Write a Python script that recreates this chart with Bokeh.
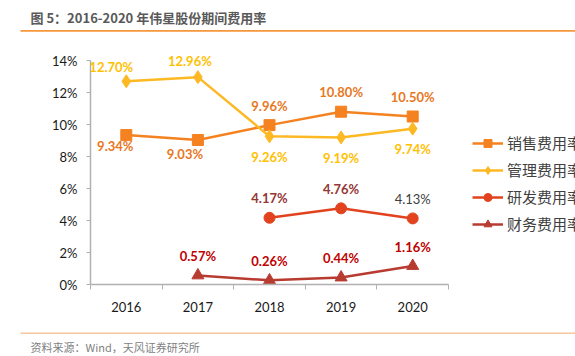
from bokeh.plotting import figure
from bokeh.layouts import column
from bokeh.models import (ColumnDataSource, FixedTicker, Range1d, LabelSet,
                          Legend, LegendItem)
from bokeh.core.properties import value
from bokeh.embed import file_html
from bokeh.resources import INLINE
import math

# ---------------- data ----------------
years = ["2016", "2017", "2018", "2019", "2020"]
series_names = ["销售费用率", "管理费用率", "研发费用率", "财务费用率"]
sales = [9.34, 9.03, 9.96, 10.80, 10.50]
admin = [12.70, 12.96, 9.26, 9.19, 9.74]
rnd = [float("nan"), float("nan"), 4.17, 4.76, 4.13]
finance = [float("nan"), 0.57, 0.26, 0.44, 1.16]
y_ticks = [0, 2, 4, 6, 8, 10, 12, 14]
y_tick_labels = ["0%", "2%", "4%", "6%", "8%", "10%", "12%", "14%"]
title_text = "图 5：2016-2020 年伟星股份期间费用率"
source_text = "资料来源：Wind，天风证券研究所"

# ---------------- styles ----------------
line_colors = ["#F58220", "#FDB924", "#E2431E", "#B83B30"]
markers = ["square", "diamond", "circle", "triangle"]
marker_sizes = [11, 13, 11, 12]
label_colors = [
    ["#E8771E"] * 5,
    ["#FFC000"] * 5,
    ["#943634", "#943634", "#943634", "#943634", "#404040"],
    ["#C00000"] * 5,
]
label_styles = [
    ["bold"] * 5,
    ["bold"] * 5,
    ["bold", "bold", "bold", "bold", "normal"],
    ["bold"] * 5,
]
# label offsets in pixels (dx right, dy up)
label_dx = [
    [-11, -13, 0, 0, 0],
    [-15, -8, 0, 0, 0],
    [0, 0, 0, 0, 0],
    [0, 0, 0, 0, 0],
]
label_dy = [
    [-10.5, -14, 19.5, 20, 20],
    [14.5, 16, -21, -20.5, -20.5],
    [19.4, 19.4, 19.4, 19.3, 19.4],
    [19.3, 19.3, 19.5, 19.4, 19.2],
]

W = 575
TOP_H = 40          # header strip (title + rule)
MAIN_H = 285        # chart strip
BOT_H = 31          # footer strip (rule + source)
FL = 90             # left border of chart frame
FB = 41             # bottom border of chart frame
frame_h = MAIN_H - FB
frame_w = W - FL
px_x = 71.6         # pixels per category
px_y = 16.0         # pixels per percentage point


def strip(height):
    f = figure(width=W, height=height, output_backend="svg", toolbar_location=None,
               x_range=Range1d(0, W), y_range=Range1d(height, 0), min_border=0,
               x_axis_location=None, y_axis_location=None, frame_align=False)
    f.title.visible = False
    f.grid.visible = False
    f.outline_line_color = None
    f.background_fill_alpha = 0
    f.border_fill_alpha = 0
    return f


# ---------------- header ----------------
top = strip(TOP_H)
top.text(x=[30], y=[17], text=[title_text], text_font=value("Noto Sans CJK SC"),
         text_font_style="bold", text_font_size="13px", text_color="#595959",
         text_baseline="middle", text_align="left")
top.segment(x0=[20], y0=[30.3], x1=[W], y1=[30.3], line_color="#F7963A", line_width=1.8)

# ---------------- chart ----------------
p = figure(width=W, height=MAIN_H, output_backend="svg", toolbar_location=None,
           x_range=Range1d(-0.5, -0.5 + frame_w / px_x),
           y_range=Range1d(0, frame_h / px_y),
           min_border_left=FL, min_border_right=0, min_border_top=0,
           min_border_bottom=FB, frame_align=False)
p.title.visible = False
p.background_fill_alpha = 0
p.border_fill_alpha = 0
p.outline_line_color = None
p.grid.visible = False

axis_color = "#B0B0B0"
xs = list(range(len(years)))
p.xaxis.ticker = FixedTicker(ticks=xs, minor_ticks=[i - 0.5 for i in range(len(years) + 1)])
p.xaxis.major_label_overrides = {i: y for i, y in enumerate(years)}
p.xaxis.bounds = (-0.5, len(years) - 0.5)
p.xaxis.major_tick_out = 0
p.xaxis.major_tick_in = 0
p.xaxis.minor_tick_out = 5
p.xaxis.minor_tick_in = 0
p.xaxis.minor_tick_line_color = axis_color
p.xaxis.major_label_standoff = 12

p.yaxis.ticker = FixedTicker(ticks=y_ticks, minor_ticks=[])
p.yaxis.major_label_overrides = {t: l for t, l in zip(y_ticks, y_tick_labels)}
p.yaxis.bounds = (y_ticks[0], y_ticks[-1])
p.yaxis.major_tick_out = 4
p.yaxis.major_tick_in = 0
p.yaxis.major_label_standoff = 9

for ax in (p.xaxis, p.yaxis):
    ax.axis_line_color = axis_color
    ax.axis_line_width = 1.5
    ax.major_tick_line_color = axis_color
    ax.major_label_text_font = "Lato"
    ax.major_label_text_font_size = "13px"
    ax.major_label_text_color = "#1a1a1a"

all_series = [sales, admin, rnd, finance]
items = []
for k, vals in enumerate(all_series):
    src = ColumnDataSource(dict(x=xs, y=vals))
    lr = p.line("x", "y", source=src, line_color=line_colors[k], line_width=2.5)
    sr = p.scatter("x", "y", source=src, marker=markers[k], size=marker_sizes[k],
                   fill_color=line_colors[k], line_color=line_colors[k])
    items.append(LegendItem(label=series_names[k], renderers=[lr, sr]))
    keep = [i for i, v in enumerate(vals) if not math.isnan(v)]
    lsrc = ColumnDataSource(dict(
        x=[xs[i] for i in keep], y=[vals[i] for i in keep],
        t=["%.2f%%" % vals[i] for i in keep],
        c=[label_colors[k][i] for i in keep],
        s=[label_styles[k][i] for i in keep],
        dx=[label_dx[k][i] for i in keep],
        dy=[label_dy[k][i] for i in keep]))
    p.add_layout(LabelSet(x="x", y="y", text="t", source=lsrc, x_offset="dx", y_offset="dy",
                          text_color="c", text_font_style="s", text_font=value("Lato"),
                          text_font_size="13px", text_align="center",
                          text_baseline="middle"))

legend = Legend(items=items, location=(382, 50), orientation="vertical",
                padding=0, margin=0, spacing=6, label_height=20, glyph_height=20,
                glyph_width=31, label_standoff=4, border_line_color=None,
                background_fill_alpha=0, label_text_font="Noto Sans CJK SC",
                label_text_font_size="15px", label_text_color="#404040")
p.add_layout(legend)

# ---------------- footer ----------------
bot = strip(BOT_H)
bot.segment(x0=[20], y0=[7.7], x1=[W], y1=[7.7], line_color="#F8C6A0", line_width=1.6)
bot.text(x=[30], y=[21], text=[source_text], text_font=value("Noto Sans CJK SC"),
         text_font_size="11px", text_color="#7F7F7F", text_baseline="middle",
         text_align="left")

layout = column(top, p, bot, spacing=0)
open("out.html", "w").write(file_html(layout, INLINE))
